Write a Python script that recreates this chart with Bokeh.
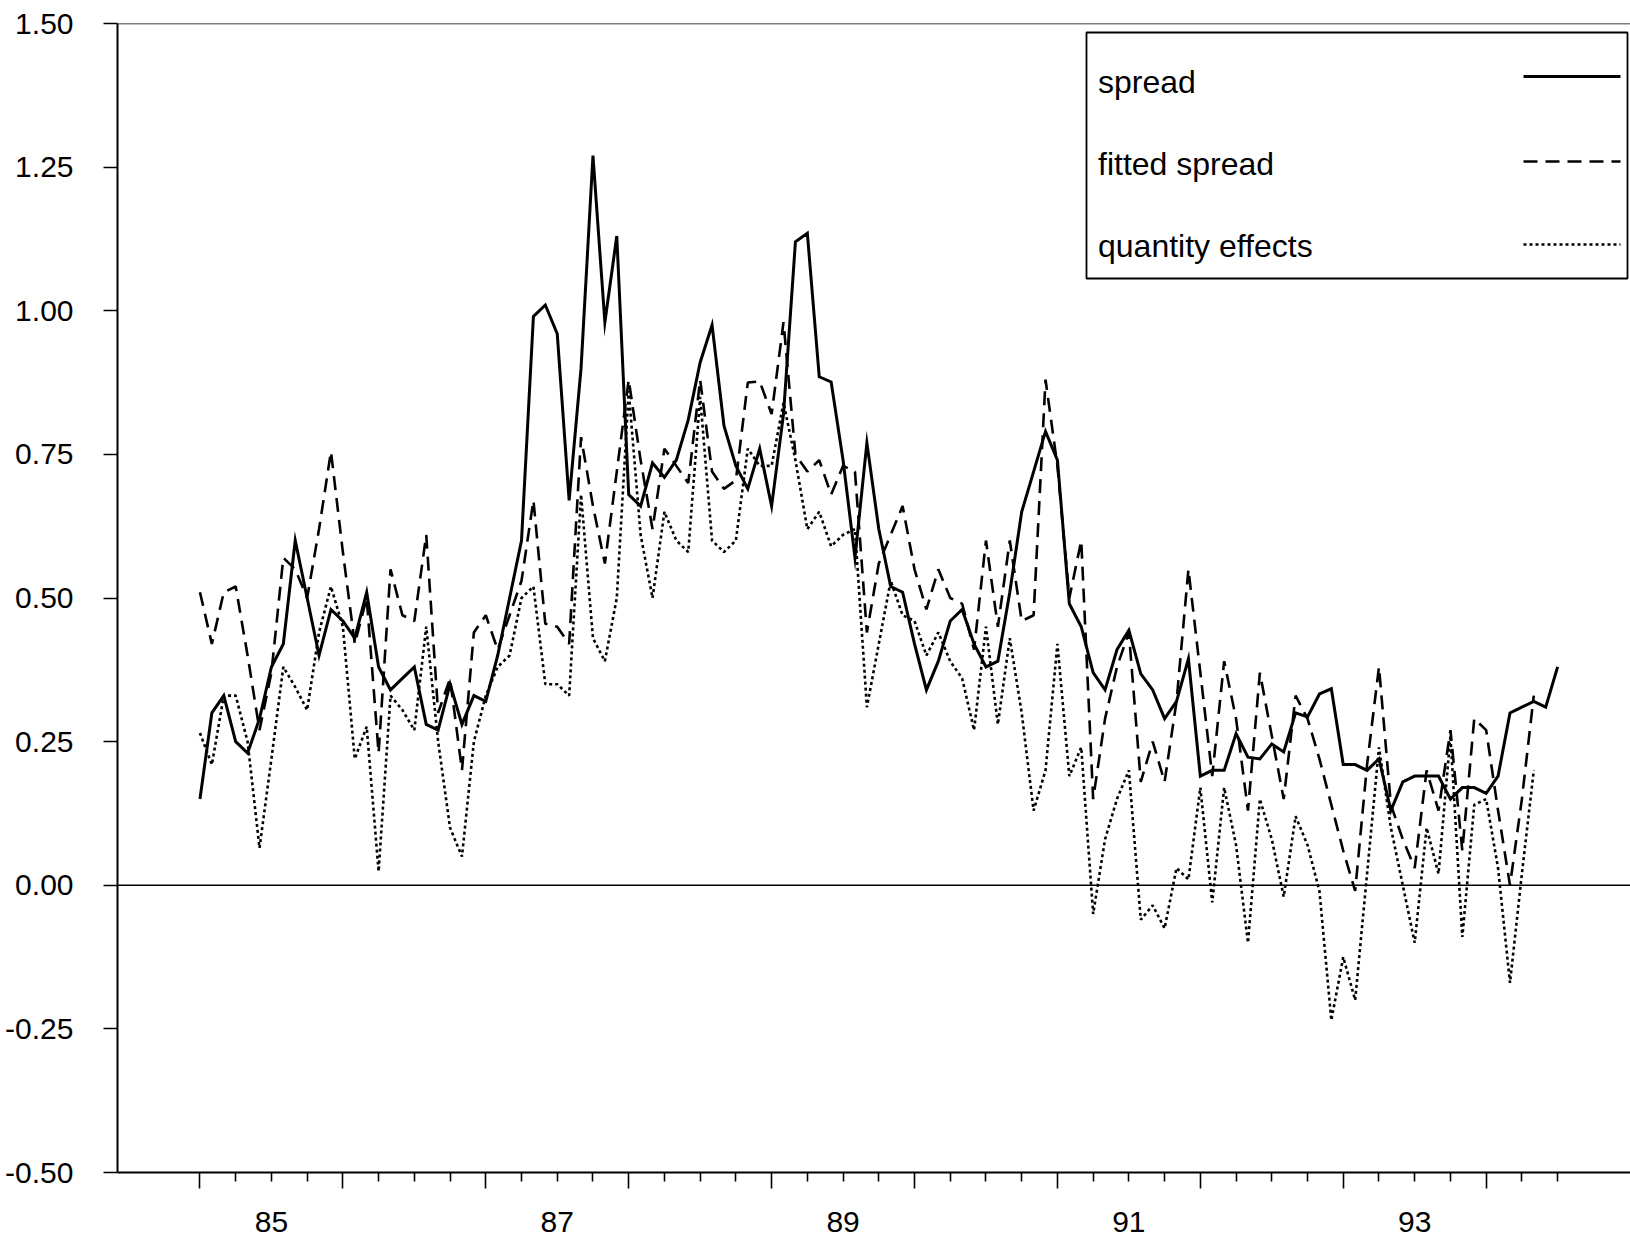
from bokeh.plotting import figure
from bokeh.models import (Range1d, LinearAxis, FixedTicker, Span, Legend,
                          LegendItem, PrintfTickFormatter, BoxAnnotation,
                          CustomLabelingPolicy, Arrow)
from bokeh.embed import file_html
from bokeh.resources import INLINE

# ---------------- data (monthly, starting January 1985) ----------------
start_year = 1985

spread = [
    0.15, 0.30, 0.33, 0.25, 0.23, 0.29, 0.38, 0.42, 0.60, 0.50,
    0.40, 0.48, 0.46, 0.43, 0.51, 0.38, 0.34, 0.36, 0.38, 0.28,
    0.27, 0.35, 0.28, 0.33, 0.32, 0.40, 0.50, 0.60, 0.99, 1.01,
    0.96, 0.67, 0.90, 1.27, 0.98, 1.13, 0.68, 0.66, 0.735, 0.71,
    0.74, 0.81, 0.91, 0.975, 0.80, 0.73, 0.69, 0.76, 0.66, 0.82,
    1.12, 1.135, 0.885, 0.876, 0.74, 0.57, 0.77, 0.62, 0.52, 0.51,
    0.42, 0.34, 0.39, 0.46, 0.48, 0.42, 0.38, 0.39, 0.51, 0.65,
    0.72, 0.79, 0.74, 0.49, 0.45, 0.37, 0.34, 0.41, 0.444, 0.368,
    0.34, 0.29, 0.32, 0.394, 0.19, 0.20, 0.20, 0.264, 0.223, 0.22,
    0.246, 0.232, 0.30, 0.293, 0.333, 0.342, 0.21, 0.21, 0.20, 0.22,
    0.13, 0.18, 0.19, 0.19, 0.19, 0.15, 0.17, 0.17, 0.16, 0.19,
    0.30, 0.31, 0.32, 0.31, 0.38,
]

fitted_spread = [
    0.51, 0.42, 0.51, 0.52, 0.40, 0.27, 0.37, 0.57, 0.55, 0.50,
    0.62, 0.755, 0.58, 0.42, 0.50, 0.23, 0.55, 0.47, 0.46, 0.61,
    0.30, 0.36, 0.20, 0.44, 0.47, 0.41, 0.47, 0.53, 0.67, 0.455,
    0.45, 0.42, 0.78, 0.66, 0.56, 0.72, 0.88, 0.74, 0.62, 0.76,
    0.73, 0.70, 0.88, 0.72, 0.69, 0.705, 0.875, 0.877, 0.82, 0.98,
    0.75, 0.72, 0.74, 0.68, 0.73, 0.72, 0.44, 0.56, 0.61, 0.66,
    0.55, 0.48, 0.55, 0.50, 0.49, 0.41, 0.60, 0.45, 0.60, 0.46,
    0.47, 0.88, 0.73, 0.50, 0.60, 0.15, 0.29, 0.38, 0.44, 0.18,
    0.25, 0.18, 0.32, 0.55, 0.37, 0.19, 0.39, 0.29, 0.13, 0.37,
    0.26, 0.15, 0.33, 0.29, 0.22, 0.14, 0.06, -0.01, 0.21, 0.38,
    0.14, 0.08, 0.03, 0.20, 0.13, 0.27, 0.06, 0.29, 0.27, 0.13,
    0.00, 0.15, 0.33,
]

quantity_effects = [
    0.265, 0.21, 0.33, 0.33, 0.25, 0.065, 0.22, 0.38, 0.345, 0.305,
    0.44, 0.52, 0.45, 0.22, 0.276, 0.024, 0.33, 0.305, 0.27, 0.45,
    0.25, 0.10, 0.05, 0.25, 0.33, 0.38, 0.40, 0.50, 0.52, 0.35,
    0.35, 0.33, 0.68, 0.43, 0.39, 0.50, 0.86, 0.61, 0.50, 0.65,
    0.60, 0.58, 0.85, 0.60, 0.58, 0.60, 0.76, 0.73, 0.73, 0.84,
    0.74, 0.62, 0.65, 0.59, 0.61, 0.62, 0.31, 0.42, 0.53, 0.47,
    0.46, 0.40, 0.44, 0.39, 0.36, 0.27, 0.45, 0.28, 0.43, 0.30,
    0.13, 0.20, 0.42, 0.19, 0.24, -0.05, 0.08, 0.15, 0.20, -0.06,
    -0.035, -0.075, 0.03, 0.01, 0.17, -0.03, 0.17, 0.07, -0.10, 0.15,
    0.08, -0.02, 0.12, 0.07, -0.01, -0.235, -0.125, -0.20, 0.02, 0.24,
    0.10, 0.00, -0.10, 0.10, 0.02, 0.26, -0.09, 0.14, 0.15, 0.03,
    -0.17, 0.02, 0.20,
]

series_names = ["spread", "fitted spread", "quantity effects"]

year_ticks = [1985, 1986, 1987, 1988, 1989, 1990, 1991, 1992, 1993, 1994]
quarter_ticks = [1985.25, 1985.5, 1985.75, 1986.25, 1986.5, 1986.75,
                 1987.25, 1987.5, 1987.75, 1988.25, 1988.5, 1988.75,
                 1989.25, 1989.5, 1989.75, 1990.25, 1990.5, 1990.75,
                 1991.25, 1991.5, 1991.75, 1992.25, 1992.5, 1992.75,
                 1993.25, 1993.5, 1993.75, 1994.25, 1994.5]
year_label_positions = [1985.5, 1987.5, 1989.5, 1991.5, 1993.5]
year_label_texts = ["85", "87", "89", "91", "93"]
y_ticks = [-0.5, -0.25, 0.0, 0.25, 0.5, 0.75, 1.0, 1.25, 1.5]


def month_positions(n):
    return [start_year + i / 12.0 for i in range(n)]


FONT = "'Liberation Sans', Arial, sans-serif"
FRAME_LEFT = 117
FRAME_BOTTOM = 1172.6

p = figure(width=1630, height=1244, output_backend="svg", toolbar_location=None,
           x_range=Range1d(1984.423, 1995.01), y_range=Range1d(-0.5, 1.5),
           x_axis_location=None, y_axis_location=None,
           min_border_left=FRAME_LEFT, min_border_right=0, min_border_top=23,
           min_border_bottom=72)
p.outline_line_color = None
p.background_fill_color = "white"
p.border_fill_color = "white"
p.xgrid.grid_line_color = None
p.ygrid.grid_line_color = None

# left axis
yaxis = LinearAxis(ticker=FixedTicker(ticks=y_ticks),
                   formatter=PrintfTickFormatter(format="%.2f"),
                   major_tick_out=14, major_tick_in=0,
                   minor_tick_out=0, minor_tick_in=0,
                   axis_line_width=2, axis_line_color="black",
                   major_tick_line_width=1.6, major_tick_line_color="black",
                   major_label_standoff=30,
                   major_label_text_font=FONT,
                   major_label_text_font_size="30px",
                   major_label_text_color="black")
p.add_layout(yaxis, "left")

# bottom axis: tick marks only (years long, quarters short), no labels
xaxis_ticks = LinearAxis(ticker=FixedTicker(ticks=year_ticks, minor_ticks=quarter_ticks),
                         major_label_policy=CustomLabelingPolicy(code="return []"),
                         major_tick_out=16, major_tick_in=0,
                         minor_tick_out=9, minor_tick_in=0,
                         axis_line_width=2, axis_line_color="black",
                         major_tick_line_width=1.6, minor_tick_line_width=1.6,
                         major_tick_line_color="black", minor_tick_line_color="black",
                         major_label_text_font_size="1px", major_label_standoff=0)
p.add_layout(xaxis_ticks, "below")

# bottom axis: year labels centred in each (odd) year
xaxis_labels = LinearAxis(ticker=FixedTicker(ticks=year_label_positions),
                          major_label_overrides=dict(zip(year_label_positions, year_label_texts)),
                          major_tick_out=0, major_tick_in=0,
                          minor_tick_out=0, minor_tick_in=0,
                          axis_line_color=None,
                          major_label_standoff=19,
                          major_label_text_font=FONT,
                          major_label_text_font_size="30px",
                          major_label_text_color="black")
p.add_layout(xaxis_labels, "below")

p.add_layout(Span(location=0.0, dimension="width", line_color="black", line_width=1.6))
p.add_layout(Span(location=1.5, dimension="width", line_color="black", line_width=1.6))

styles = [dict(line_width=3.0, line_dash="solid"),
          dict(line_width=2.6, line_dash="14 8"),
          dict(line_width=2.6, line_dash="3 3")]

r_spread = p.line(month_positions(len(spread)), spread,
                  line_color="black", line_join="miter", **styles[0])
r_fit = p.line(month_positions(len(fitted_spread)), fitted_spread,
               line_color="black", **styles[1])
r_qty = p.line(month_positions(len(quantity_effects)), quantity_effects,
               line_color="black", **styles[2])
renderers = [r_spread, r_fit, r_qty]

# legend frame (white box with black border)
p.add_layout(BoxAnnotation(left=1086, right=1627, top=32, bottom=278,
                           left_units="canvas", right_units="canvas",
                           top_units="canvas", bottom_units="canvas",
                           fill_color="white", fill_alpha=1.0,
                           line_color="black", line_width=1.8, line_alpha=1.0))

# legend texts (left side of the box)
legend = Legend(items=[LegendItem(label=n, renderers=[r]) for n, r in zip(series_names, renderers)],
                location=(981, 897), orientation="vertical",
                glyph_width=0, glyph_height=58, label_height=58,
                label_width=500, label_standoff=0,
                spacing=24, padding=12, margin=0,
                border_line_color=None, background_fill_alpha=0.0,
                label_text_font=FONT, label_text_font_size="32px",
                label_text_color="black")
p.add_layout(legend)

# legend line samples (right side of the box)
sample_x = (1523, 1620)
sample_y = [76, 161, 244]
for yy, st in zip(sample_y, styles):
    try:
        arr = Arrow(end=None, x_start=sample_x[0], y_start=yy, x_end=sample_x[1], y_end=yy,
                    start_units="canvas", end_units="canvas",
                    line_color="black", **st)
    except Exception:
        arr = Arrow(end=None, x_start=sample_x[0] - FRAME_LEFT, y_start=FRAME_BOTTOM - yy,
                    x_end=sample_x[1] - FRAME_LEFT, y_end=FRAME_BOTTOM - yy,
                    start_units="screen", end_units="screen",
                    line_color="black", **st)
    p.add_layout(arr)

open("out.html", "w").write(file_html(p, INLINE))
